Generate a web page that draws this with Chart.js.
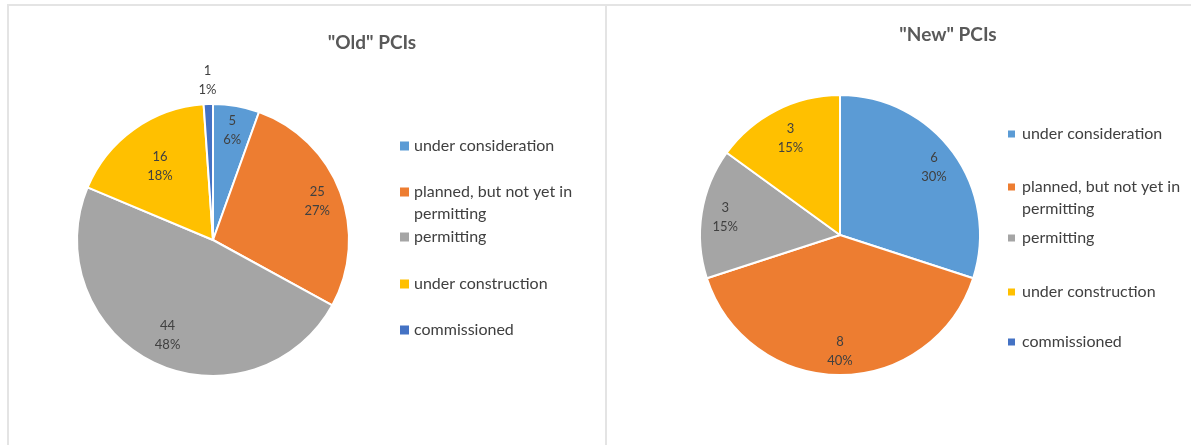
<!DOCTYPE html>
<html>
<head>
<meta charset="utf-8">
<script src="https://cdn.jsdelivr.net/npm/chart.js@4.4.0/dist/chart.umd.min.js"></script>
<style>
    body { margin: 0; background: #fff; }
    #wrap { position: relative; width: 1191px; height: 445px; overflow: hidden; background: #fff; }
    .panel { position: absolute; top: 4px; height: 441px; border-left: 2px solid #e4e4e4; border-top: 2px solid #e4e4e4; }
    #leftPanel { left: 7px; width: 597px; }
    #rightPanel { left: 605px; width: 590px; }
    .panel canvas { display: block; }
</style>
</head>
<body>
<div id="wrap">
    <div class="panel" id="leftPanel"><canvas id="oldChart"></canvas></div>
    <div class="panel" id="rightPanel"><canvas id="newChart"></canvas></div>
</div>
<script>
// data
const categories = ['under consideration', 'planned, but not yet in permitting', 'permitting', 'under construction', 'commissioned'];
const legendLines = [['under consideration'], ['planned, but not yet in', 'permitting'], ['permitting'], ['under construction'], ['commissioned']];
const oldValues = [5, 25, 44, 16, 1];
const newValues = [6, 8, 3, 3, 0];
const sliceColors = ['#5B9BD5', '#ED7D31', '#A5A5A5', '#FFC000', '#4472C4'];

const FONT = 'Lato, Calibri, "Open Sans", sans-serif';

// whole percentages that add up to 100 (largest remainder)
function percents(values) {
    const total = values.reduce((a, b) => a + b, 0);
    const raw = values.map(v => v / total * 100);
    const out = raw.map(Math.floor);
    let left = 100 - out.reduce((a, b) => a + b, 0);
    const order = raw.map((r, i) => i).sort((a, b) => (raw[b] - out[b]) - (raw[a] - out[a]));
    for (let k = 0; k < left; k++) out[order[k]]++;
    return out;
}

// draws title, legend and value/percent labels (excel look)
const excelPlugin = {
    id: 'excelLook',
    afterDraw(chart, args, opts) {
        const ctx = chart.ctx;
        const meta = chart.getDatasetMeta(0);
        const values = chart.data.datasets[0].data;
        const pcts = percents(values);

        ctx.save();
        // title
        ctx.fillStyle = '#595959';
        ctx.font = 'bold 19px ' + FONT;
        ctx.textAlign = 'center';
        ctx.textBaseline = 'middle';
        ctx.fillText(opts.title, opts.titleX, opts.titleY);

        // slice labels
        ctx.fillStyle = '#404040';
        ctx.font = '13px ' + FONT;
        meta.data.forEach((arc, i) => {
            if (!values[i]) return;
            const mid = (arc.startAngle + arc.endAngle) / 2;
            const r = arc.outerRadius * opts.labelRadius[i];
            const x = arc.x + Math.cos(mid) * r;
            const y = arc.y + Math.sin(mid) * r;
            ctx.fillText(String(values[i]), x, y - 9);
            ctx.fillText(pcts[i] + '%', x, y + 10);
        });

        // legend
        ctx.textAlign = 'left';
        ctx.font = '16px ' + FONT;
        legendLines.forEach((lines, i) => {
            const y = opts.legendY[i];
            ctx.fillStyle = sliceColors[i];
            ctx.fillRect(opts.boxX, y - opts.boxSize / 2, opts.boxSize, opts.boxSize);
            ctx.fillStyle = '#404040';
            lines.forEach((t, j) => ctx.fillText(t, opts.textX, y + j * 22));
        });
        ctx.restore();
    }
};

function makePie(id, values, padding, extra) {
    return new Chart(document.getElementById(id), {
        type: 'pie',
        data: {
            labels: categories,
            datasets: [{
                data: values,
                backgroundColor: sliceColors,
                borderColor: '#ffffff',
                borderWidth: 2,
                hoverOffset: 0
            }]
        },
        options: {
            responsive: false,
            animation: false,
            layout: { padding: padding },
            plugins: {
                legend: { display: false },
                tooltip: { enabled: false },
                title: { display: false },
                excelLook: extra
            }
        },
        plugins: [excelPlugin]
    });
}

const oldCanvas = document.getElementById('oldChart');
oldCanvas.width = 597; oldCanvas.height = 439;
const newCanvas = document.getElementById('newChart');
newCanvas.width = 584; newCanvas.height = 439;

makePie('oldChart', oldValues, { left: 67, right: 256, top: 97, bottom: 68 }, {
    title: '"Old" PCIs', titleX: 363, titleY: 37,
    labelRadius: [0.82, 0.82, 0.77, 0.67, 1.18],
    boxX: 391, boxSize: 9, textX: 405,
    legendY: [140, 186, 231, 278, 324]
});

makePie('newChart', newValues, { left: 92, right: 210, top: 88, bottom: 69 }, {
    title: '"New" PCIs', titleX: 341, titleY: 29,
    labelRadius: [0.83, 0.83, 0.83, 0.78, 0.8],
    boxX: 401, boxSize: 7, textX: 415,
    legendY: [128, 181, 232, 286, 336]
});
</script>
</body>
</html>
